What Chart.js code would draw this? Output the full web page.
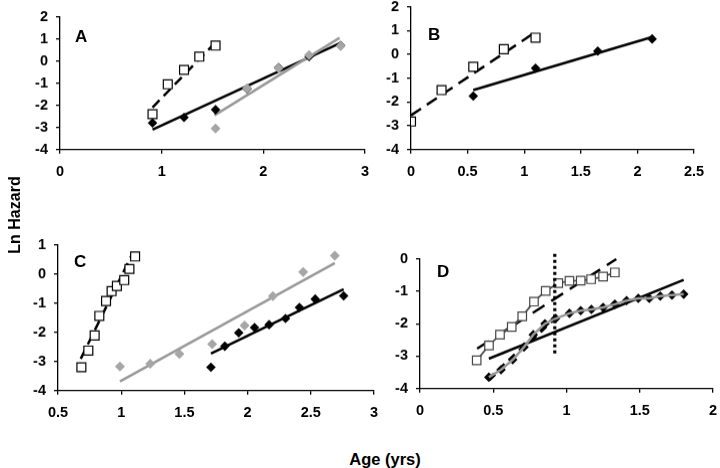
<!DOCTYPE html>
<html>
<head>
<meta charset="utf-8">
<script src="https://cdn.jsdelivr.net/npm/chart.js@4/dist/chart.umd.min.js"></script>
<style>
  html, body { margin: 0; padding: 0; background: #fff; overflow: hidden; }
  body { width: 720px; height: 468px; position: relative; }
  .pane { position: absolute; }
  .lbl { position: absolute; font-family: 'Liberation Sans', 'Noto Sans', sans-serif; font-weight: bold; color: #000; line-height: 1; }
</style>
</head>
<body>
<div class="pane" id="wA"><canvas id="cA"></canvas></div>
<div class="pane" id="wB"><canvas id="cB"></canvas></div>
<div class="pane" id="wC"><canvas id="cC"></canvas></div>
<div class="pane" id="wD"><canvas id="cD"></canvas></div>
<div class="lbl" style="left:75px;top:28px;font-size:17px;">A</div>
<div class="lbl" style="left:428px;top:26px;font-size:17px;">B</div>
<div class="lbl" style="left:74px;top:253px;font-size:17px;">C</div>
<div class="lbl" style="left:437px;top:263px;font-size:17px;">D</div>
<div class="lbl" style="left:-35px;top:207px;font-size:16px;transform:rotate(-90deg);width:100px;text-align:center;">Ln Hazard</div>
<div class="lbl" style="left:325px;top:451px;font-size:16.5px;width:120px;text-align:center;">Age (yrs)</div>
<script>
    // Panel A
    const aSqX = [0.91, 1.06, 1.22, 1.37, 1.53];
    const aSqY = [-2.4, -1.05, -0.4, 0.2, 0.7];
    const aSqFitX = [0.91, 1.53];
    const aSqFitY = [-2.1, 0.85];
    const aBlkX = [0.91, 1.22, 1.53, 1.84, 2.15, 2.45, 2.76];
    const aBlkY = [-2.8, -2.55, -2.2, -1.25, -0.3, 0.2, 0.7];
    const aBlkFitX = [0.91, 2.76];
    const aBlkFitY = [-3.1, 0.82];
    const aGryX = [1.53, 1.84, 2.15, 2.45, 2.76];
    const aGryY = [-3.05, -1.23, -0.32, 0.27, 0.68];
    const aGryFitX = [1.52, 2.75];
    const aGryFitY = [-2.45, 1.05];

    // Panel B
    const bSqX = [0, 0.27, 0.55, 0.82, 1.1];
    const bSqY = [-2.82, -1.5, -0.52, 0.22, 0.7];
    const bSqFitX = [0, 1.1];
    const bSqFitY = [-2.56, 0.94];
    const bBlkX = [0.55, 1.1, 1.65, 2.13];
    const bBlkY = [-1.75, -0.58, 0.14, 0.65];
    const bBlkFitX = [0.55, 2.13];
    const bBlkFitY = [-1.5, 0.73];

    // Panel C
    const cSqX = [0.685, 0.74, 0.79, 0.827, 0.88, 0.924, 0.966, 1.024, 1.065, 1.11];
    const cSqY = [-3.2, -2.63, -2.11, -1.44, -0.93, -0.59, -0.41, -0.21, 0.17, 0.6];
    const cSqFitX = [0.68, 1.09];
    const cSqFitY = [-2.91, 0.71];
    const cGryX = [0.99, 1.23, 1.46, 1.72, 1.976, 2.2, 2.44, 2.69];
    const cGryY = [-3.17, -3.08, -2.74, -2.41, -1.77, -0.76, 0.07, 0.63];
    const cGryFitX = [0.99, 2.69];
    const cGryFitY = [-3.69, 0.37];
    const cBlkX = [1.71, 1.82, 1.93, 2.055, 2.17, 2.3, 2.41, 2.535, 2.76];
    const cBlkY = [-3.2, -2.48, -2.02, -1.84, -1.74, -1.53, -1.15, -0.86, -0.75];
    const cBlkFitX = [1.71, 2.76];
    const cBlkFitY = [-2.73, -0.52];

    // Panel D
    const dSqX = [0.387, 0.471, 0.546, 0.626, 0.698, 0.778, 0.858, 0.944, 1.02, 1.097, 1.168, 1.25, 1.33];
    const dSqY = [-3.13, -2.67, -2.34, -2.1, -1.77, -1.32, -0.99, -0.75, -0.68, -0.67, -0.63, -0.55, -0.42];
    const dSqFitX = [0.39, 1.34];
    const dSqFitY = [-2.77, -0.01];
    const dBlkX = [0.47, 0.553, 0.633, 0.71, 0.773, 0.853, 0.926, 1.02, 1.097, 1.17, 1.25, 1.33, 1.41, 1.49, 1.565, 1.64, 1.72, 1.8];
    const dBlkY = [-3.65, -3.42, -3.11, -2.72, -2.34, -2.0, -1.84, -1.68, -1.6, -1.56, -1.5, -1.4, -1.29, -1.22, -1.22, -1.15, -1.12, -1.09];
    const dBlkFitX = [0.47, 1.8];
    const dBlkFitY = [-3.08, -0.65];
    const dEarlyFitX = [0.47, 0.93];
    const dEarlyFitY = [-3.72, -1.78];
    const dCutX = [0.92, 0.92];
    const dCutY = [0.15, -2.98];

    function pts(xs, ys) { return xs.map((x, i) => ({ x, y: ys[i] })); }

    function markers(xs, ys, style, order) {
        let s;
        if (style == 'sq') s = { pointStyle: 'rect', pointRadius: 6.3, backgroundColor: '#fff', borderColor: '#000', borderWidth: 1.2 };
        else if (style == 'sqGrey') s = { pointStyle: 'rect', pointRadius: 6, backgroundColor: '#fff', borderColor: '#444', borderWidth: 1.2 };
        else if (style == 'blk') s = { pointStyle: 'rectRot', pointRadius: 4.8, backgroundColor: '#000', borderColor: '#000', borderWidth: 0 };
        else s = { pointStyle: 'rectRot', pointRadius: 5, backgroundColor: '#a6a6a6', borderColor: '#a6a6a6', borderWidth: 0 };
        return Object.assign({ data: pts(xs, ys), showLine: false, order: order }, s);
    }

    function line(xs, ys, color, dash, width, order) {
        return {
            data: pts(xs, ys), showLine: true, pointRadius: 0, borderColor: color,
            borderWidth: width || 2.5, borderDash: dash || [], order: order, clip: false
        };
    }

    // plot = wanted plot area on the page: left, right, top, bottom
    function makePanel(id, plot, xr, yr, datasets) {
        const wrap = document.getElementById('w' + id);
        let box = { left: plot.l - 35, top: plot.t - 8, w: plot.r - plot.l + 50, h: plot.b - plot.t + 38 };
        const place = () => {
            wrap.style.left = box.left + 'px';
            wrap.style.top = box.top + 'px';
            wrap.style.width = box.w + 'px';
            wrap.style.height = box.h + 'px';
        };
        place();
        const font = { family: "'Liberation Sans', 'Noto Sans', sans-serif", size: 14.5, weight: 'bold' };
        const fmt = v => String(+v.toFixed(2));
        const chart = new Chart(document.getElementById('c' + id), {
            type: 'scatter',
            data: { datasets },
            options: {
                responsive: true, maintainAspectRatio: false, animation: false,
                layout: { padding: { left: 0, right: 15, top: 8, bottom: 0 } },
                plugins: { legend: { display: false }, tooltip: { enabled: false } },
                scales: {
                    x: {
                        min: xr[0], max: xr[1],
                        ticks: { stepSize: xr[2], color: '#000', font, padding: 10, maxRotation: 0, callback: fmt },
                        grid: { drawOnChartArea: false, tickLength: 4, color: '#000', lineWidth: 1.3 },
                        border: { color: '#000', width: 1.3 },
                        afterFit: s => { s.height = 30; }
                    },
                    y: {
                        min: yr[0], max: yr[1],
                        ticks: { stepSize: 1, color: '#000', font, padding: 8, callback: fmt },
                        grid: { drawOnChartArea: false, tickLength: 4, color: '#000', lineWidth: 1.3 },
                        border: { color: '#000', width: 1.3 },
                        afterFit: s => { s.width = 35; }
                    }
                }
            }
        });
        // move the canvas so the plot area lands where the original one is
        for (let k = 0; k < 3; k++) {
            const ca = chart.chartArea;
            box.w += (plot.r - plot.l) - (ca.right - ca.left);
            box.h += (plot.b - plot.t) - (ca.bottom - ca.top);
            box.left += plot.l - (box.left + ca.left);
            box.top += plot.t - (box.top + ca.top);
            place();
            chart.resize();
        }
        return chart;
    }

    makePanel('A', { l: 60, r: 365, t: 17, b: 149 }, [0, 3, 1], [-4, 2], [
        markers(aSqX, aSqY, 'sq', 1),
        markers(aGryX, aGryY, 'gry', 2),
        markers(aBlkX, aBlkY, 'blk', 3),
        line(aSqFitX, aSqFitY, '#000', [10, 6], 2.5, 4),
        line(aGryFitX, aGryFitY, '#999', [], 2.5, 5),
        line(aBlkFitX, aBlkFitY, '#000', [], 2.5, 6)
    ]);

    makePanel('B', { l: 411, r: 694, t: 7, b: 149 }, [0, 2.5, 0.5], [-4, 2], [
        markers(bSqX, bSqY, 'sq', 1),
        markers(bBlkX, bBlkY, 'blk', 2),
        line(bSqFitX, bSqFitY, '#000', [12, 7], 2.5, 3),
        line(bBlkFitX, bBlkFitY, '#000', [], 2.5, 4)
    ]);

    makePanel('C', { l: 58, r: 374, t: 245, b: 390 }, [0.5, 3, 0.5], [-4, 1], [
        markers(cSqX, cSqY, 'sq', 1),
        markers(cGryX, cGryY, 'gry', 2),
        markers(cBlkX, cBlkY, 'blk', 3),
        line(cSqFitX, cSqFitY, '#000', [10, 6], 2.5, 4),
        line(cGryFitX, cGryFitY, '#999', [], 2.5, 5),
        line(cBlkFitX, cBlkFitY, '#000', [], 2.5, 6)
    ]);

    makePanel('D', { l: 420, r: 713, t: 259, b: 388 }, [0, 2, 0.5], [-4, 0], [
        line(dCutX, dCutY, '#000', [3, 3], 3.2, 1),
        Object.assign(markers(dSqX, dSqY, 'sqGrey', 2), { showLine: true, borderColor: '#444', pointBorderColor: '#444' }),
        line(dSqX, dSqY, '#999', [], 2, 3),
        markers(dBlkX, dBlkY, 'blk', 5),
        line(dBlkX, dBlkY, '#999', [], 2.5, 4),
        line(dEarlyFitX, dEarlyFitY, '#000', [8, 6], 4, 6),
        line(dSqFitX, dSqFitY, '#000', [14, 8], 2.5, 7),
        line(dBlkFitX, dBlkFitY, '#000', [], 2.5, 8)
    ]);
</script>
</body>
</html>
